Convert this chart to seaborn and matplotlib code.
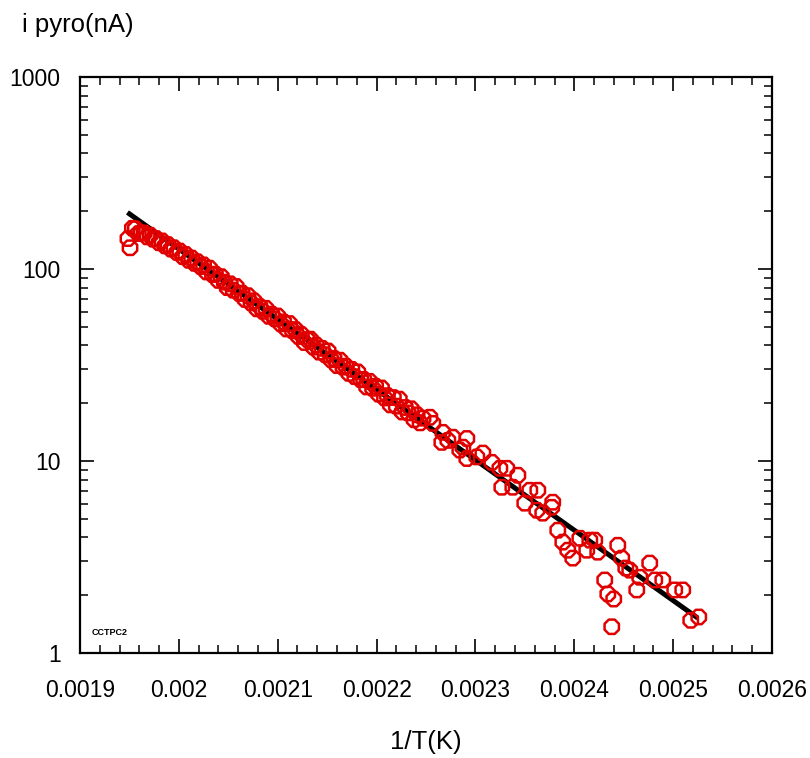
import numpy as np
import pandas as pd
import matplotlib
matplotlib.use("Agg")
import matplotlib.pyplot as plt
import seaborn as sns
from matplotlib.ticker import LogLocator, MultipleLocator, FixedLocator, NullFormatter

# ---- data ----
inv_T = [
    0.0019485, 0.0019506,
    0.001953, 0.001956, 0.001959, 0.001962, 0.001965, 0.001968, 0.001971, 0.001974, 0.001977, 0.001980,
    0.001983, 0.001986, 0.001989, 0.001992, 0.001995, 0.001998, 0.002001, 0.002004, 0.002007, 0.002010,
    0.002013, 0.002016, 0.002019, 0.002022, 0.002025, 0.002028, 0.002031, 0.002034, 0.002037, 0.002040,
    0.002043, 0.002046, 0.002049, 0.002052, 0.002055, 0.002058, 0.002061, 0.002064, 0.002067, 0.002070,
    0.002073, 0.002076, 0.002079, 0.002082, 0.002085, 0.002088, 0.002091, 0.002094, 0.002097, 0.002100,
    0.002103, 0.002106, 0.002109, 0.002112, 0.002115, 0.002118, 0.002121, 0.002124, 0.002127, 0.002130,
    0.002133, 0.002136, 0.002139, 0.002142, 0.002145, 0.002148, 0.002151, 0.002154, 0.002157, 0.002160,
    0.002163, 0.002166, 0.002169, 0.002172, 0.002175, 0.002178, 0.002181, 0.002184, 0.002187, 0.002190,
    0.002193, 0.002196, 0.002199, 0.002202, 0.002205, 0.002208, 0.002211, 0.002214, 0.002217, 0.002220,
    0.002223, 0.002226, 0.002229, 0.002232, 0.002235, 0.002238, 0.002241, 0.002244, 0.002247,
    0.0022539, 0.0022569, 0.0022670, 0.0022660, 0.0022721, 0.0022771, 0.0022842, 0.0022873, 0.0022913,
    0.0022913, 0.0023014, 0.0023075, 0.0023166, 0.0023247, 0.0023317, 0.0023429, 0.0023267, 0.0023378,
    0.0023499, 0.0023550, 0.0023631, 0.0023621, 0.0023681, 0.0023782, 0.0023772, 0.0023833, 0.0023884,
    0.0023934, 0.0023985, 0.0024056, 0.0024126, 0.0024157, 0.0024207, 0.0024237, 0.0024308, 0.0024339,
    0.0024399, 0.0024379, 0.0024440, 0.0024480, 0.0024521, 0.0024561, 0.0024632, 0.0024662, 0.0024763,
    0.0024814, 0.0024895, 0.0025016, 0.0025097, 0.0025178, 0.0025259,
]
i_pyro = [
    144, 129,
    163, 162, 153, 154, 154, 147, 150, 143, 144, 137,
    140, 132, 134, 127, 129, 122, 124, 116, 119, 111,
    114, 107, 109, 103, 105, 96.5, 101, 93.6, 94.0, 87.2,
    91.2, 85.4, 80.0, 83.7, 77.6, 81.1, 74.6, 74.9, 69.4, 72.6,
    66.6, 68.3, 62.0, 63.7, 60.2, 62.4, 56.7, 58.2, 55.0, 56.9,
    51.8, 53.0, 48.7, 52.0, 47.7, 48.4, 44.5, 45.6, 41.4, 42.9,
    43.1, 39.2, 40.2, 36.9, 38.6, 35.8, 37.4, 33.7, 34.2, 31.4,
    33.5, 30.8, 31.2, 28.6, 30.0, 27.5, 29.1, 26.5, 26.6, 24.3,
    26.0, 23.9, 24.5, 22.3, 24.0, 21.3, 21.9, 19.6, 21.4, 19.3,
    21.0, 18.0, 19.0, 17.8, 18.7, 16.4, 17.4, 15.8, 16.7,
    16.9, 15.7, 14.1, 12.5, 12.8, 13.3, 11.4, 11.8, 13.1,
    10.3, 10.5, 11.0, 9.84, 9.16, 9.16, 8.43, 7.30, 7.30,
    6.03, 7.04, 7.04, 5.54, 5.35, 6.10, 5.74, 4.36, 3.78,
    3.43, 3.12, 3.96, 3.43, 3.87, 3.87, 3.35, 2.40, 2.03,
    1.91, 1.37, 3.64, 3.12, 2.77, 2.70, 2.13, 2.48, 2.94,
    2.40, 2.40, 2.13, 2.13, 1.48, 1.54,
]
fit_inv_T = [0.001948, 0.002525]
fit_i = [197, 1.52]

x_ticks = [0.0019, 0.002, 0.0021, 0.0022, 0.0023, 0.0024, 0.0025, 0.0026]
x_tick_labels = ["0.0019", "0.002", "0.0021", "0.0022", "0.0023", "0.0024", "0.0025", "0.0026"]
y_ticks = [1, 10, 100, 1000]
y_tick_labels = ["1", "10", "100", "1000"]

pts = pd.DataFrame({"x": inv_T, "y": i_pyro})
fit = pd.DataFrame({"x": fit_inv_T, "y": fit_i})

sns.set_theme(style="ticks")
plt.rcParams["font.family"] = ["Liberation Sans", "DejaVu Sans"]
plt.rcParams["text.color"] = "black"
plt.rcParams["axes.labelcolor"] = "black"

fig = plt.figure(figsize=(8.1, 7.58), dpi=100)
ax = fig.add_axes([80 / 810, 1 - 653 / 758, 692 / 810, 576 / 758])

sns.lineplot(data=fit, x="x", y="y", ax=ax, color="black", linewidth=3.6,
             solid_capstyle="butt", zorder=2)
sns.scatterplot(data=pts, x="x", y="y", ax=ax, marker="8", s=125,
                facecolor="none", edgecolor="#e00000", linewidth=1.8, zorder=3)

ax.set_yscale("log")
ax.set_xlim(0.0019, 0.0026)
ax.set_ylim(1, 1000)

ax.xaxis.set_major_locator(FixedLocator(x_ticks))
ax.set_xticklabels(x_tick_labels)
ax.xaxis.set_minor_locator(MultipleLocator(0.00002))
ax.yaxis.set_major_locator(FixedLocator(y_ticks))
ax.set_yticklabels(y_tick_labels)
ax.yaxis.set_minor_locator(LogLocator(base=10, subs=np.arange(2, 10)))
ax.yaxis.set_minor_formatter(NullFormatter())

ax.tick_params(which="both", direction="in", top=True, right=True, colors="black",
               labelcolor="black", labelsize=16.5)
ax.tick_params(axis="x", which="major", length=10, width=1.2, pad=19)
ax.tick_params(axis="y", which="major", length=10, width=1.2, pad=14)
ax.tick_params(which="minor", length=5.5, width=1.1)
for s in ax.spines.values():
    s.set_linewidth(1.6)
    s.set_color("black")

ax.set_xlabel("1/T(K)", fontsize=18.5, labelpad=20, color="black")
ax.set_ylabel("")
fig.text(22 / 810, 1 - 25 / 758, "i pyro(nA)", fontsize=18.5, ha="left", va="center",
         color="black")
ax.text(0.017, 0.036, "CCTPC2", transform=ax.transAxes, fontsize=6.5,
        fontweight="bold", ha="left", va="center", color="black")

fig.savefig("out.png", dpi=100)
